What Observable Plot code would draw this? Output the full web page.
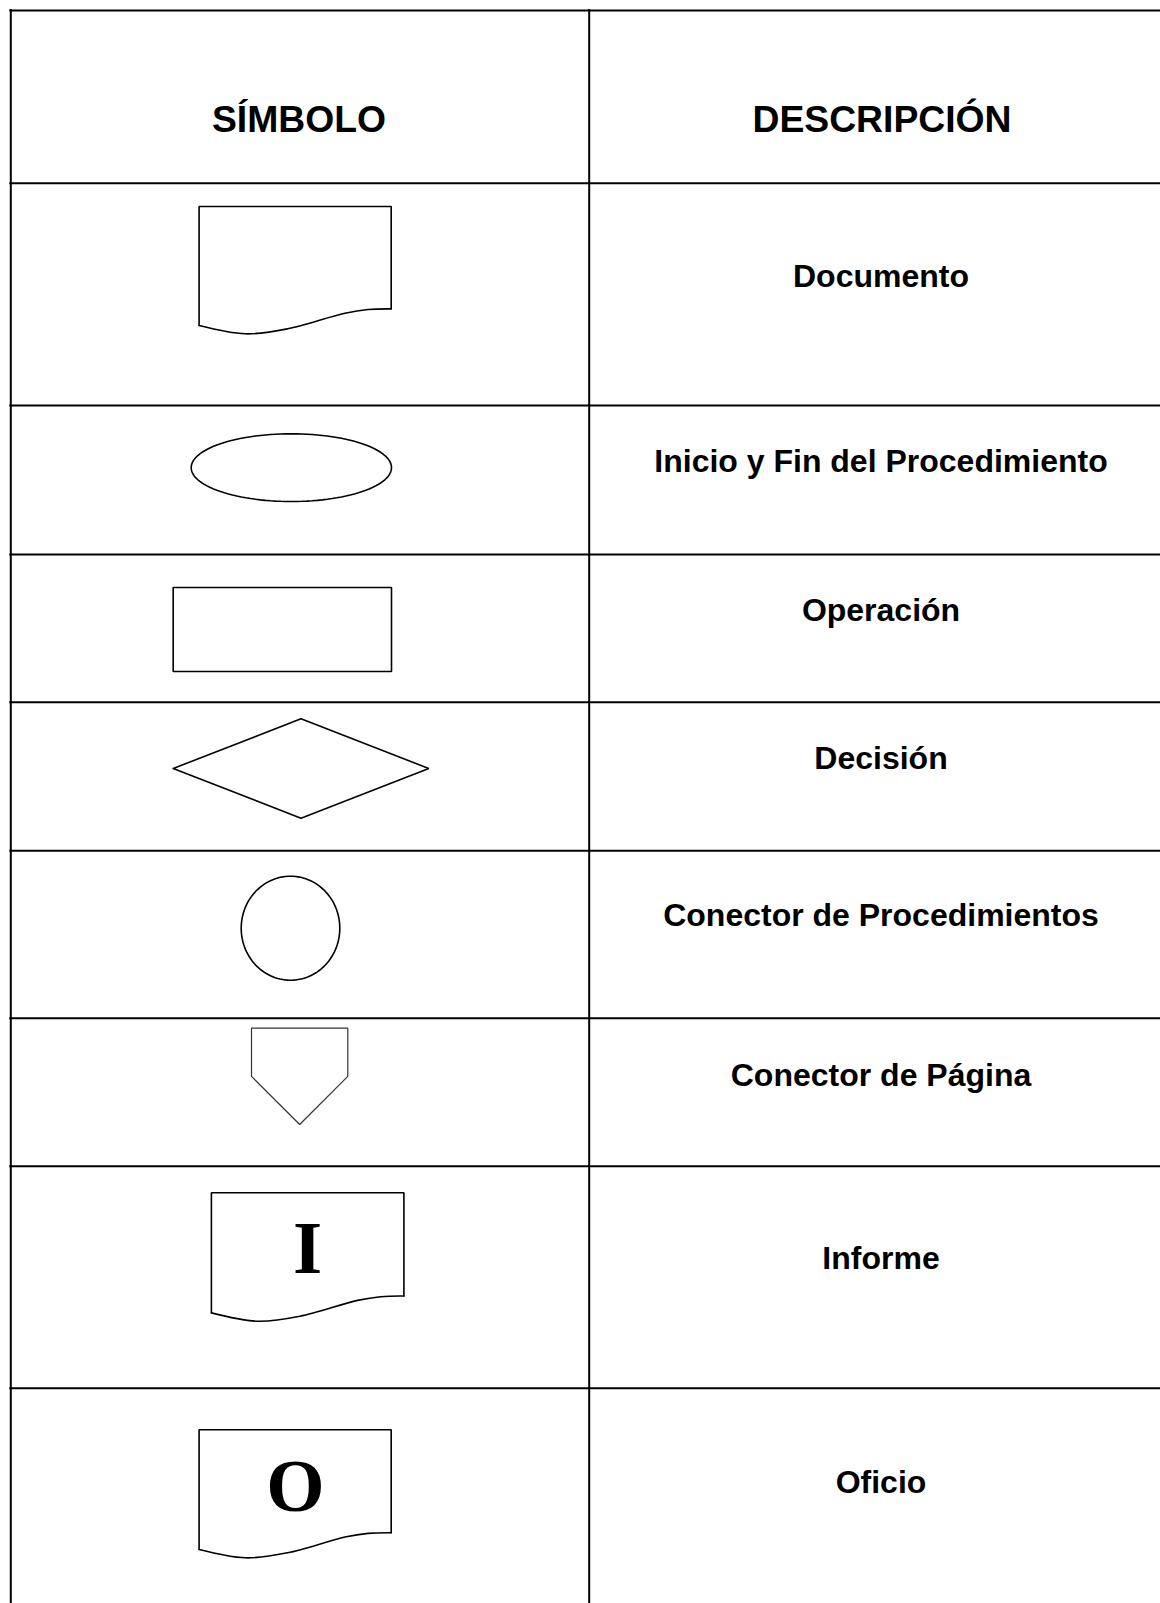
<!DOCTYPE html>
<html>
<head>
<meta charset="utf-8">
<script src="https://cdn.jsdelivr.net/npm/d3@7"></script>
<script src="https://cdn.jsdelivr.net/npm/@observablehq/plot@0.6"></script>
<style>
  html, body { margin: 0; padding: 0; background: #fff; }
  #chart svg { display: block; background: #fff; }
</style>
</head>
<body>
<div id="chart"></div>
<script>
// ---- Content ----
const headers = ["SÍMBOLO", "DESCRIPCIÓN"];
const descriptions = [
  "Documento",
  "Inicio y Fin del Procedimiento",
  "Operación",
  "Decisión",
  "Conector de Procedimientos",
  "Conector de Página",
  "Informe",
  "Oficio"
];
const symbolKinds = ["documento", "terminal", "proceso", "decision", "conector", "pagina", "documento", "documento"];
const symbolLetters = ["", "", "", "", "", "", "I", "O"];

// ---- Layout ----
const W = 1160, H = 1603;
const tableLeft = 10.3, columnDivider = 588.7;
const rowLines = [10, 182.7, 405, 554, 701.7, 850.3, 1017.7, 1165.7, 1387.7];
const headerX = [298.5, 881.5];
const headerBaseline = 131;
const descX = 880.5;
const descBaselines = [286.7, 471.5, 620.5, 768, 925.5, 1085, 1268.3, 1492.3];
// symbol bounding boxes [x0, y0, x1, y1]
const symbolBoxes = [
  [198.6, 206, 390.7, 333.3],
  [190.7, 433.3, 391, 501],
  [172.7, 587, 391, 671],
  [172.7, 718.3, 428.3, 817.7],
  [240.7, 875.7, 339.3, 979.7],
  [251, 1027.7, 347.3, 1124],
  [210.9, 1192.3, 403.4, 1320.7],
  [198.6, 1429.3, 390.7, 1557.3]
];
const letterX = [0, 0, 0, 0, 0, 0, 307, 295];
const letterBaseline = [0, 0, 0, 0, 0, 0, 1272.7, 1510];

// ---- Shape templates (unit box) ----
const templates = {
  docOutline: [[1, 0.804], [1, 0], [0, 0], [0, 0.935]],
  docWave: [[1, 0.804], [0.879, 0.809], [0.759, 0.838], [0.46, 0.961], [0.241, 1], [0, 0.935]],
  rect: [[0, 0], [1, 0], [1, 1], [0, 1], [0, 0]],
  diamond: [[0, 0.5], [0.5, 0], [1, 0.5], [0.5, 1], [0, 0.5]],
  pentagon: [[0, 0], [1, 0], [1, 0.5], [0.5, 1], [0, 0.5], [0, 0]]
};
function ellipseTemplate(n) {
  const pts = [];
  for (let i = 0; i <= n; i++) {
    const a = (i / n) * 2 * Math.PI;
    pts.push([0.5 + 0.5 * Math.cos(a), 0.5 + 0.5 * Math.sin(a)]);
  }
  return pts;
}
templates.ellipse = ellipseTemplate(120);

function place(tpl, box, id) {
  const [x0, y0, x1, y1] = box;
  return tpl.map(([u, v]) => ({x: x0 + u * (x1 - x0), y: y0 + v * (y1 - y0), id}));
}

const linearPts = [], wavePts = [], thinPts = [];
symbolKinds.forEach((k, i) => {
  const b = symbolBoxes[i];
  if (k === "documento") {
    linearPts.push(...place(templates.docOutline, b, "o" + i));
    wavePts.push(...place(templates.docWave, b, "w" + i));
  } else if (k === "terminal" || k === "conector") {
    linearPts.push(...place(templates.ellipse, b, "e" + i));
  } else if (k === "proceso") {
    linearPts.push(...place(templates.rect, b, "r" + i));
  } else if (k === "decision") {
    linearPts.push(...place(templates.diamond, b, "d" + i));
  } else if (k === "pagina") {
    thinPts.push(...place(templates.pentagon, b, "p" + i));
  }
});

const headerData = headers.map((t, i) => ({t, x: headerX[i], y: headerBaseline}));
const descData = descriptions.map((t, i) => ({t, x: descX, y: descBaselines[i]}));
const letterData = symbolLetters.map((t, i) => ({t, x: letterX[i], y: letterBaseline[i]})).filter(d => d.t);

const sans = "'Liberation Sans', Arial, Helvetica, sans-serif";
const serif = "'Liberation Serif', 'Times New Roman', Times, serif";

const chart = Plot.plot({
  width: W,
  height: H,
  margin: 0,
  x: {type: "linear", domain: [0, W], range: [0, W], axis: null},
  y: {type: "linear", domain: [0, H], range: [0, H], axis: null},
  style: {background: "#fff"},
  marks: [
    Plot.ruleY(rowLines, {y: d => d, x1: tableLeft - 1, x2: W, stroke: "#000", strokeWidth: 2}),
    Plot.ruleX([tableLeft, columnDivider], {x: d => d, y1: rowLines[0] - 1, y2: H, stroke: "#000", strokeWidth: 2}),
    Plot.line(linearPts, {x: "x", y: "y", z: "id", stroke: "#000", strokeWidth: 1.6, curve: "linear", strokeLinejoin: "miter"}),
    Plot.line(wavePts, {x: "x", y: "y", z: "id", stroke: "#000", strokeWidth: 1.6, curve: "catmull-rom"}),
    Plot.line(thinPts, {x: "x", y: "y", z: "id", stroke: "#333", strokeWidth: 1.2, curve: "linear", strokeLinejoin: "miter"}),
    Plot.text(headerData, {x: "x", y: "y", text: "t", fontSize: 37.3, fontWeight: "bold", fontFamily: sans, fill: "#000", textAnchor: "middle", lineAnchor: "bottom"}),
    Plot.text(descData, {x: "x", y: "y", text: "t", fontSize: 32, fontWeight: "bold", fontFamily: sans, fill: "#000", textAnchor: "middle", lineAnchor: "bottom"}),
    Plot.text(letterData, {x: "x", y: "y", text: "t", fontSize: 75, fontWeight: "bold", fontFamily: serif, fill: "#000", textAnchor: "middle", lineAnchor: "bottom"})
  ]
});
document.getElementById("chart").appendChild(chart);
</script>
</body>
</html>
